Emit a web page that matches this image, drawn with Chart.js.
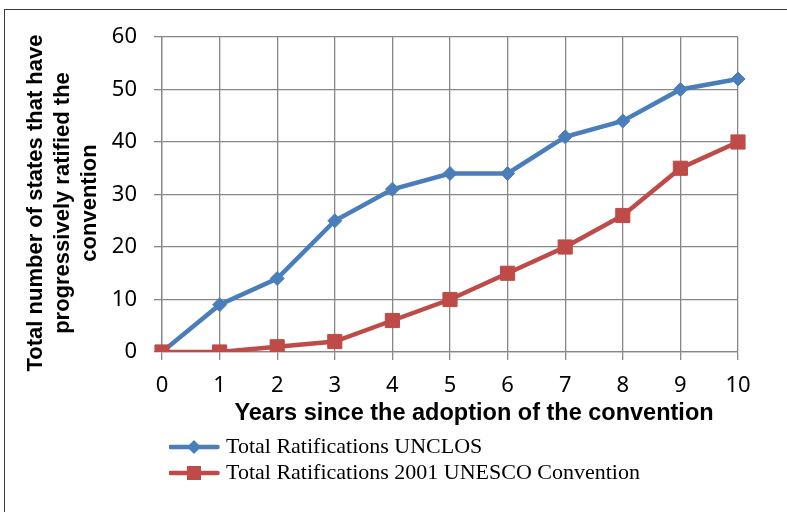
<!DOCTYPE html>
<html>
<head>
<meta charset="utf-8">
<script src="https://cdn.jsdelivr.net/npm/chart.js@4"></script>
<style>
  html, body { margin: 0; padding: 0; background: #fff; overflow: hidden; }
  #wrap { position: relative; width: 787px; height: 512px; }
  #frame {
    position: absolute; left: 4px; top: 9px; width: 820px; height: 620px;
    border-left: 1.5px solid #3a3a3a; border-top: 1.5px solid #3a3a3a;
    box-sizing: border-box;
  }
  #c { position: absolute; left: 0; top: 0; }
</style>
</head>
<body>
<div id="wrap">
  <div id="frame"></div>
  <canvas id="c" width="787" height="512"></canvas>
</div>
<script>
// Years since adoption (x categories)
const years = ['0', '1', '2', '3', '4', '5', '6', '7', '8', '9', '10'];

// Cumulative ratifications per year
const unclosTotals = [0, 9, 14, 25, 31, 34, 34, 41, 44, 50, 52];
const unescoTotals = [0, 0, 1, 2, 6, 10, 15, 20, 26, 35, 40];

const seriesNames = [
  'Total Ratifications UNCLOS',
  'Total Ratifications 2001 UNESCO Convention'
];

// Value axis range
const yMin = 0;
const yMax = 60;
const yStep = 10;

const yTitleLines = [
  'Total number of states that have',
  'progressively ratified the',
  'convention'
];
const xTitleText = 'Years since the adoption of the convention';

const BLUE = '#4A7EBB';
const RED = '#BE4B48';
const GRID = '#878787';

// Legend swatch: short line with the series marker in the middle
function makeSwatch(color, shape) {
  const cv = document.createElement('canvas');
  cv.width = 52; cv.height = 18;
  const g = cv.getContext('2d');
  g.strokeStyle = color;
  g.lineWidth = 4.5;
  g.lineCap = 'round';
  g.beginPath(); g.moveTo(2.5, 9); g.lineTo(49.5, 9); g.stroke();
  g.fillStyle = color;
  g.beginPath();
  if (shape === 'diamond') {
    g.moveTo(26, 2); g.lineTo(33, 9); g.lineTo(26, 16); g.lineTo(19, 9); g.closePath();
  } else {
    g.rect(19, 2, 14, 14);
  }
  g.fill();
  return cv;
}
const swatches = [makeSwatch(BLUE, 'diamond'), makeSwatch(RED, 'square')];

// Legend rows start at the plot's left edge
const legendIndent = {
  id: 'legendIndent',
  afterLayout(chart) {
    chart.legend.left = chart.chartArea.left + 7;
  }
};

// Axis titles
const axisTitles = {
  id: 'axisTitles',
  afterDraw(chart) {
    const ctx = chart.ctx;
    const area = chart.chartArea;
    ctx.save();
    ctx.fillStyle = '#000';
    ctx.textAlign = 'center';
    ctx.textBaseline = 'middle';

    ctx.font = 'bold 22px "Liberation Sans", Arial, sans-serif';
    const yMid = (area.top + area.bottom) / 2 + 8.5;
    yTitleLines.forEach((line, i) => {
      ctx.save();
      ctx.translate(36 + i * 27, yMid);
      ctx.rotate(-Math.PI / 2);
      ctx.fillText(line, 0, 0);
      ctx.restore();
    });

    ctx.font = 'bold 23.5px "Liberation Sans", Arial, sans-serif';
    ctx.fillText(xTitleText, (area.left + area.right) / 2 + 24, 414);
    ctx.restore();
  }
};

new Chart(document.getElementById('c'), {
  type: 'line',
  data: {
    labels: years,
    datasets: [
      {
        label: seriesNames[0],
        data: unclosTotals,
        borderColor: BLUE,
        backgroundColor: BLUE,
        borderWidth: 4.5,
        pointStyle: 'rectRot',
        pointRadius: 7,
        pointBorderWidth: 1,
        pointHoverRadius: 7,
        tension: 0,
        order: 2
      },
      {
        label: seriesNames[1],
        data: unescoTotals,
        borderColor: RED,
        backgroundColor: RED,
        borderWidth: 4.5,
        pointStyle: 'rect',
        pointRadius: 10,
        pointBorderWidth: 1,
        pointHoverRadius: 10,
        tension: 0,
        order: 1
      }
    ]
  },
  options: {
    responsive: false,
    animation: false,
    devicePixelRatio: 1,
    events: [],
    layout: { padding: { left: 5, top: 37, right: 49, bottom: 18 } },
    scales: {
      x: {
        type: 'category',
        offset: false,
        afterFit(scale) { scale.height = 80; },
        grid: { color: GRID, lineWidth: 1.3, tickLength: 8, offset: false },
        border: { color: GRID, width: 1.3 },
        ticks: {
          color: '#000',
          padding: 13,
          maxRotation: 0,
          autoSkip: false,
          font: { family: '"Noto Sans", "Open Sans", sans-serif', size: 22 }
        },
        title: { display: false }
      },
      y: {
        min: yMin,
        max: yMax,
        afterFit(scale) { scale.width = 157; },
        grid: { color: GRID, lineWidth: 1.3, tickLength: 8 },
        border: { color: GRID, width: 1.3 },
        ticks: {
          stepSize: yStep,
          color: '#000',
          padding: 17,
          font: { family: '"Noto Sans", "Open Sans", sans-serif', size: 22 }
        },
        title: { display: false }
      }
    },
    plugins: {
      tooltip: { enabled: false },
      legend: {
        position: 'bottom',
        align: 'start',
        labels: {
          usePointStyle: true,
          pointStyleWidth: 42,
          padding: 4,
          color: '#000',
          font: { family: '"Liberation Serif", "Times New Roman", serif', size: 22 },
          generateLabels(chart) {
            const items = Chart.defaults.plugins.legend.labels.generateLabels(chart);
            items.sort((a, b) => a.datasetIndex - b.datasetIndex);
            items.forEach(it => { it.pointStyle = swatches[it.datasetIndex]; });
            return items;
          }
        }
      }
    }
  },
  plugins: [legendIndent, axisTitles]
});
</script>
</body>
</html>
